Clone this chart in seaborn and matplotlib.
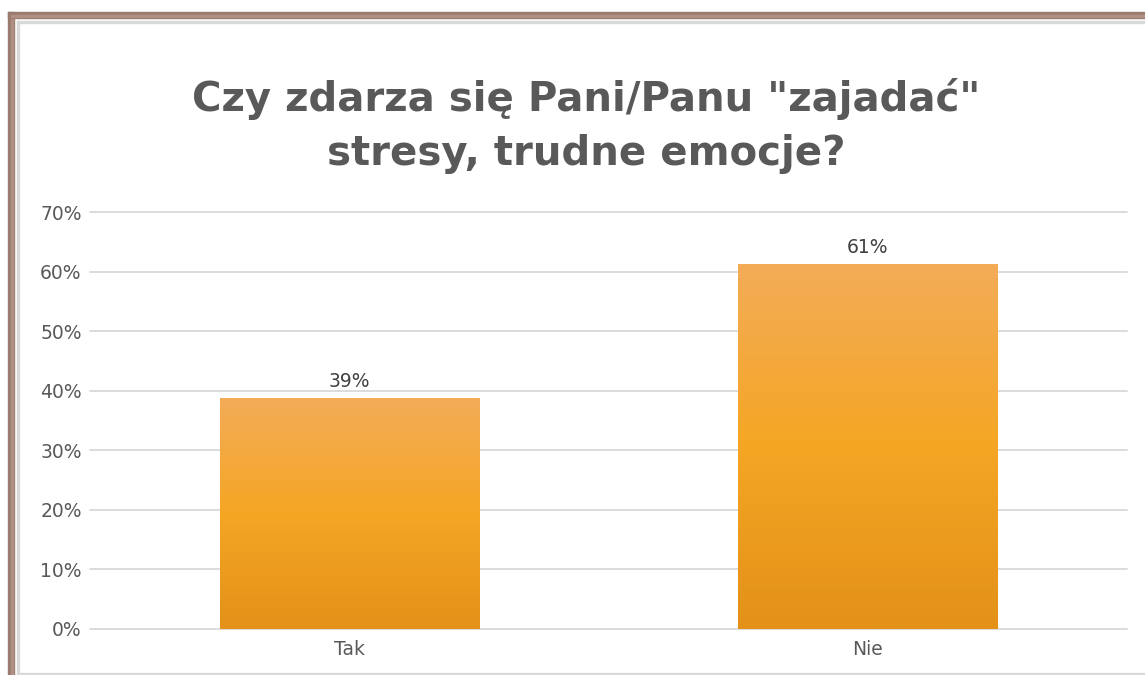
import numpy as np
import pandas as pd
import matplotlib
matplotlib.use('Agg')
import matplotlib.pyplot as plt
from matplotlib.colors import LinearSegmentedColormap
from matplotlib.patches import Rectangle
import seaborn as sns

# Dane
odpowiedzi = ['Tak', 'Nie']
udzial = [0.387, 0.613]
etykiety = ['39%', '61%']
tytul = 'Czy zdarza się Pani/Panu "zajadać"\nstresy, trudne emocje?'

df = pd.DataFrame({'odp': odpowiedzi, 'udzial': udzial})

sns.set_style('white')
plt.rcParams['font.family'] = ['DejaVu Sans']

W, H = 1145, 675
fig = plt.figure(figsize=(W / 100, H / 100), dpi=100)
ax = fig.add_axes([90 / W, 1 - 629 / H, (1127 - 90) / W, (629 - 212) / H])

sns.barplot(data=df, x='odp', y='udzial', color='#F5A623', width=0.5, ax=ax)

# gradient na słupkach
grad = LinearSegmentedColormap.from_list('g', ['#E39119', '#F5A623', '#F3AC58'])
for p in ax.patches:
    x0, y0 = p.get_x(), p.get_y()
    w, h = p.get_width(), p.get_height()
    img = ax.imshow(np.linspace(0, 1, 256).reshape(-1, 1), cmap=grad, origin='lower',
                    extent=[x0, x0 + w, y0, y0 + h], aspect='auto', zorder=3)
    img.set_clip_path(p)
    p.set_edgecolor('none')

ax.set_xlim(-0.5, 1.5)
ax.set_ylim(0, 0.7)
ax.set_yticks(np.arange(0, 0.71, 0.1))
ax.set_yticklabels([f'{int(round(v * 100))}%' for v in np.arange(0, 0.71, 0.1)])
ax.yaxis.grid(True, color='#D9D9D9', linewidth=1.3)
for gl in ax.get_ygridlines():
    gl.set_clip_on(False)
ax.set_axisbelow(True)
for s in ax.spines.values():
    s.set_visible(False)
ax.tick_params(axis='both', length=0, labelsize=13.5, colors='#595959', pad=8)
ax.tick_params(axis='y', pad=6)
ax.set_xlabel('')
ax.set_ylabel('')

for i, (v, t) in enumerate(zip(udzial, etykiety)):
    ax.text(i, v + 0.012, t, ha='center', va='bottom', fontsize=13.5, color='#404040', zorder=5)

fig.text(586 / W, 1 - 126 / H, tytul, ha='center', va='center', fontsize=29,
         fontweight='heavy', color='#595959', linespacing=1.45)

# ramka
fig.add_artist(Rectangle((8 / W, 0), 6 / W, 1 - 12 / H, transform=fig.transFigure,
                         color='#9C7B6F', zorder=10))
fig.add_artist(Rectangle((11 / W, 0), 2 / W, 1 - 15 / H, transform=fig.transFigure,
                         color='#B09084', zorder=10))
fig.add_artist(Rectangle((8 / W, 1 - 18 / H), 1 - 8 / W, 6 / H, transform=fig.transFigure,
                         color='#9C7B6F', zorder=10))
fig.add_artist(Rectangle((11 / W, 1 - 17 / H), 1 - 11 / W, 2 / H, transform=fig.transFigure,
                         color='#B09084', zorder=10))
fig.add_artist(Rectangle((17 / W, 0), 1.5 / W, 1 - 21 / H, transform=fig.transFigure,
                         color='#D9D9D9', zorder=10))
fig.add_artist(Rectangle((17 / W, 1 - 22.5 / H), 1 - 17 / W, 1.5 / H, transform=fig.transFigure,
                         color='#D9D9D9', zorder=10))
fig.add_artist(Rectangle((17 / W, 1 / H), 1 - 17 / W, 1.5 / H, transform=fig.transFigure,
                         color='#D9D9D9', zorder=10))

fig.savefig('out.png', dpi=100, facecolor='white')
